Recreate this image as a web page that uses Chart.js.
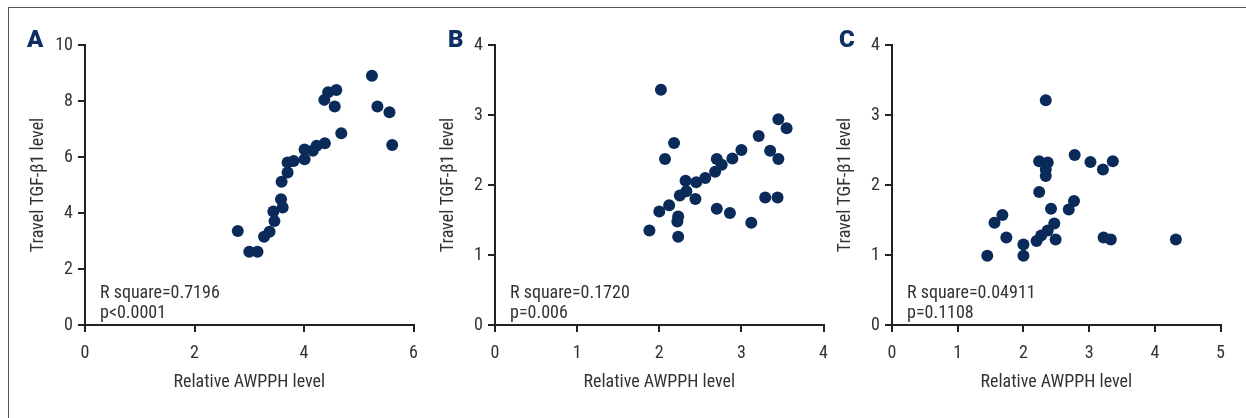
<!DOCTYPE html>
<html>
<head>
<meta charset="utf-8">
<script src="https://cdn.jsdelivr.net/npm/chart.js@4.4.1/dist/chart.umd.min.js"></script>
<style>
body { margin:0; width:1246px; height:418px; background:#fff; overflow:hidden; position:relative;
       font-family:'Roboto Condensed','DejaVu Sans Condensed',sans-serif; }
.frame { position:absolute; left:8px; top:7px; right:-2px; bottom:-2px; border-top:1px solid #555; border-left:1px solid #555; }
.panel { position:absolute; top:8px; }
.letter { position:absolute; font-family:Roboto,sans-serif; font-weight:900; font-size:24px; line-height:24px; color:#0d2f62; }
.stats { position:absolute; font-size:18px; line-height:20px; color:#333; white-space:nowrap; }
</style>
</head>
<body>
<div class="frame"></div>

<canvas class="panel" id="chart-a" width="421" height="400" style="left:8px"></canvas>
<canvas class="panel" id="chart-b" width="421" height="400" style="left:418px"></canvas>
<canvas class="panel" id="chart-c" width="421" height="400" style="left:815px"></canvas>

<div class="letter" style="left:27px;top:27px">A</div>
<div class="letter" style="left:448px;top:27px">B</div>
<div class="letter" style="left:839px;top:27px">C</div>

<div class="stats" style="left:100px;top:282px">R square=0.7196<br>p&lt;0.0001</div>
<div class="stats" style="left:510px;top:282px">R square=0.1720<br>p=0.006</div>
<div class="stats" style="left:907px;top:282px">R square=0.04911<br>p=0.1108</div>

<script>
// Panel A
const a_x = [2.79, 3.00, 3.15, 3.27, 3.37, 3.46, 3.44, 3.58, 3.61, 3.59, 3.70, 3.70, 3.81, 4.01,
             4.01, 4.16, 4.23, 4.38, 4.37, 4.44, 4.59, 4.56, 4.68, 5.24, 5.34, 5.56, 5.61];
const a_y = [3.36, 2.62, 2.62, 3.15, 3.33, 3.71, 4.05, 4.49, 4.20, 5.12, 5.45, 5.80, 5.86, 6.27,
             5.92, 6.22, 6.40, 6.49, 8.04, 8.31, 8.39, 7.80, 6.85, 8.90, 7.80, 7.60, 6.43];

// Panel B
const b_x = [2.02, 2.18, 2.07, 2.32, 2.45, 2.56, 2.70, 2.76, 2.68, 2.89, 3.00, 3.21, 3.45, 3.55, 3.35,
             3.45, 2.33, 2.25, 2.44, 2.12, 2.00, 2.23, 2.22, 1.88, 2.23, 2.70, 2.86, 3.12, 3.29, 3.44];
const b_y = [3.36, 2.60, 2.37, 2.06, 2.04, 2.10, 2.37, 2.29, 2.19, 2.38, 2.50, 2.70, 2.94, 2.81, 2.49,
             2.37, 1.91, 1.85, 1.80, 1.71, 1.62, 1.55, 1.48, 1.35, 1.26, 1.66, 1.60, 1.46, 1.82, 1.82];

// Panel C
const c_x = [2.34, 2.24, 2.37, 2.34, 2.34, 2.24, 2.78, 3.02, 3.21, 3.36, 2.77, 2.69, 2.42, 1.68,
             1.56, 2.47, 2.37, 2.27, 2.20, 2.49, 1.74, 2.00, 2.00, 1.45, 3.22, 3.33, 4.32];
const c_y = [3.21, 2.34, 2.32, 2.22, 2.13, 1.90, 2.43, 2.33, 2.22, 2.34, 1.77, 1.65, 1.66, 1.57,
             1.46, 1.45, 1.35, 1.28, 1.20, 1.22, 1.25, 1.15, 0.99, 0.99, 1.25, 1.22, 1.22];

const x_title = 'Relative AWPPH level';
const y_title = 'Travel TGF-\u03b21 level';

const font_family = "'Roboto Condensed','DejaVu Sans Condensed',sans-serif";
const dot_color = '#0a2a5a';
const axis_color = '#222';

function make_panel (id, xs, ys, xmax, xstep, ymax, ystep) {
    let pts = [];
    xs.forEach((x, i) => { pts.push({x: x, y: ys[i]}); });

    return new Chart(document.getElementById(id), {
        type: 'scatter',
        data: {
            datasets: [{
                data: pts,
                backgroundColor: dot_color,
                borderColor: dot_color,
                borderWidth: 0,
                pointRadius: 6,
                pointHoverRadius: 6
            }]
        },
        options: {
            responsive: false,
            animation: false,
            devicePixelRatio: 1,
            layout: { padding: { top: 37, right: 12, bottom: 15, left: 0 } },
            plugins: { legend: { display: false }, tooltip: { enabled: false } },
            scales: {
                x: {
                    type: 'linear', min: 0, max: xmax,
                    ticks: { stepSize: xstep, color: '#333', padding: 11, font: { family: font_family, size: 18 } },
                    grid: { drawOnChartArea: false, tickLength: 7, color: axis_color, lineWidth: 2 },
                    border: { color: axis_color, width: 2 },
                    title: { display: true, text: x_title, color: '#333', padding: 0, font: { family: font_family, size: 18 } },
                    afterFit: (s) => { s.height = 68; }
                },
                y: {
                    type: 'linear', min: 0, max: ymax,
                    ticks: { stepSize: ystep, color: '#333', padding: 5, font: { family: font_family, size: 18 } },
                    grid: { drawOnChartArea: false, tickLength: 7, color: axis_color, lineWidth: 2 },
                    border: { color: axis_color, width: 2 },
                    title: { display: true, text: y_title, color: '#333', padding: { top: 20, bottom: 0 }, font: { family: font_family, size: 18 } },
                    afterFit: (s) => { s.width = 77; }
                }
            }
        }
    });
}

make_panel('chart-a', a_x, a_y, 6, 2, 10, 2);
make_panel('chart-b', b_x, b_y, 4, 1, 4, 1);
make_panel('chart-c', c_x, c_y, 5, 1, 4, 1);
</script>
</body>
</html>
